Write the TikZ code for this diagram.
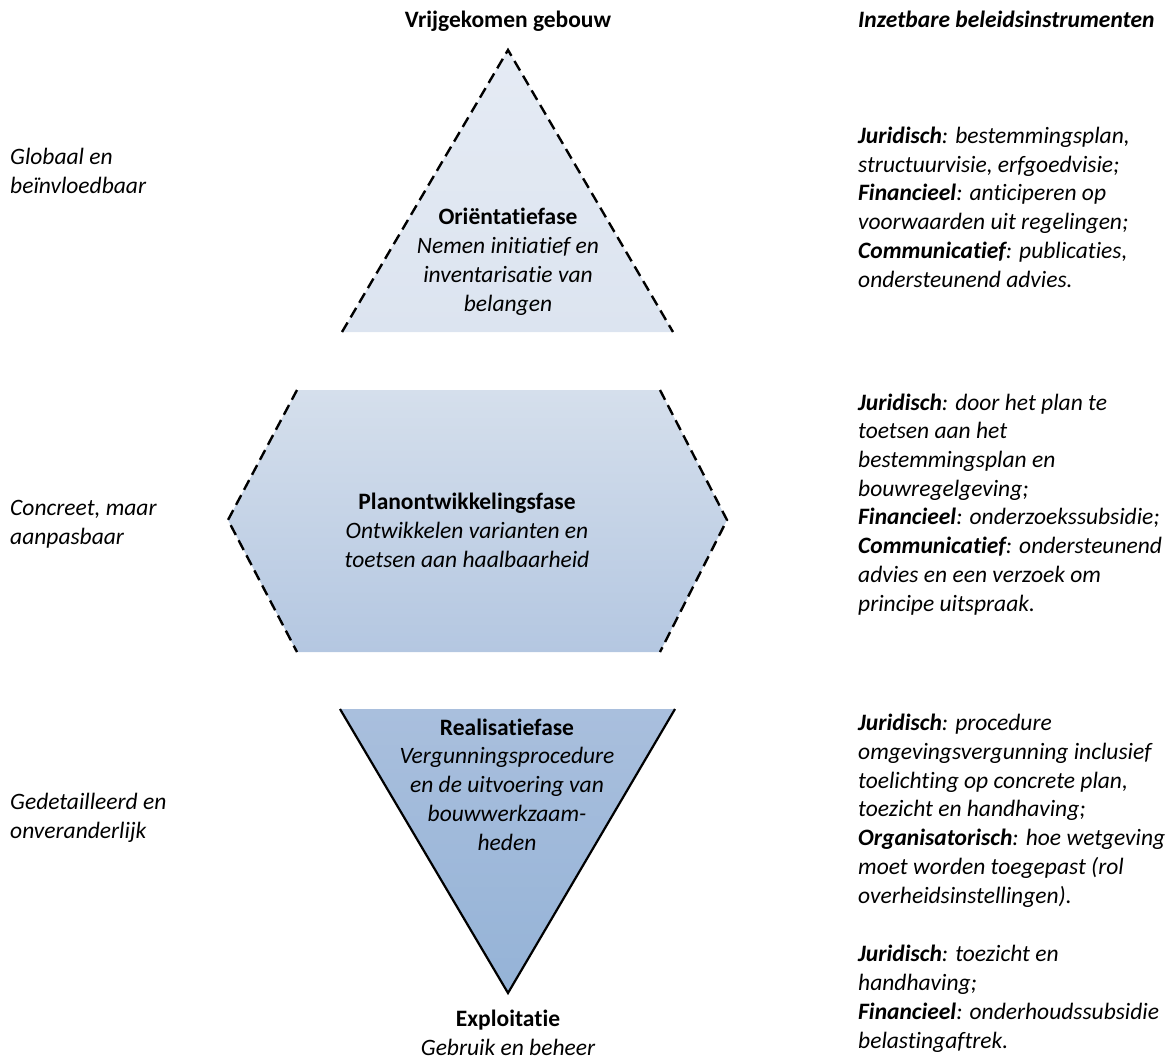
\documentclass[tikz,border=0pt]{standalone}
\usepackage{fontspec}
\setmainfont{Carlito}[Ligatures=NoCommon]
\begin{document}
\begin{tikzpicture}[x=1pt,y=-1pt,
  txt/.style={inner sep=0pt,font=\fontsize{23.5}{28.7}\selectfont},
  lefttxt/.style={txt,anchor=base west,align=left},
  midtxt/.style={txt,anchor=base,align=center},
  sidetxt/.style={lefttxt,font=\fontsize{23.5}{28.7}\selectfont\itshape},
  edgedash/.style={line width=2.4pt,dash pattern=on 11pt off 6pt},
  edgesolid/.style={line width=2.2pt,line join=miter}]
\useasboundingbox (0,0) rectangle (1176,1061);

% Orientation phase: dashed upward triangle
\shade[top color={rgb,255:red,229;green,235;blue,244},bottom color={rgb,255:red,220;green,228;blue,240}]
  (508,50) -- (673,332) -- (342,332) -- cycle;
\draw[edgedash] (342,332) -- (508,50) -- (673,332);

% Plan development phase: dashed hexagon
\shade[top color={rgb,255:red,213;green,223;blue,236},bottom color={rgb,255:red,180;green,199;blue,225}]
  (297,390) -- (660,390) -- (727,520) -- (660,652) -- (297,652) -- (228,520) -- cycle;
\draw[edgedash] (297,390) -- (228,520) -- (297,652);
\draw[edgedash] (660,390) -- (727,520) -- (660,652);

% Realisation phase: solid downward triangle
\shade[top color={rgb,255:red,169;green,191;blue,221},bottom color={rgb,255:red,149;green,179;blue,215}]
  (340,709) -- (675,709) -- (508,993) -- cycle;
\draw[edgesolid] (340,709) -- (508,993) -- (675,709);

% Column headings (base anchor = baseline of the last line)
\node[midtxt] (top) at (508,27) {\bfseries Vrijgekomen gebouw};
\node[lefttxt] (head) at (858,27) {\bfseries\itshape Inzetbare beleidsinstrumenten};

% Phase labels
\node[midtxt] (orient) at (508,311) {\textbf{Oriëntatiefase}\\\itshape Nemen initiatief en\\\itshape inventarisatie van\\\itshape belangen};
\node[midtxt] (plan) at (467,567) {\textbf{Planontwikkelingsfase}\\\itshape Ontwikkelen varianten en\\\itshape toetsen aan haalbaarheid};
\node[midtxt] (real) at (507,850) {\textbf{Realisatiefase}\\\itshape Vergunningsprocedure\\\itshape en de uitvoering van\\\itshape bouwwerkzaam-\\\itshape heden};
\node[midtxt] (expl) at (508,1055) {\textbf{Exploitatie}\\\itshape Gebruik en beheer};

% Left column: character of each phase
\node[sidetxt] (l1) at (10,193) {Globaal en\\beïnvloedbaar};
\node[sidetxt] (l2) at (10,544) {Concreet, maar\\aanpasbaar};
\node[sidetxt] (l3) at (10,838) {Gedetailleerd en\\onveranderlijk};

% Right column: policy instruments
\node[sidetxt] (r1) at (858,287)
  {\textbf{Juridisch}: bestemmingsplan,\\structuurvisie, erfgoedvisie;\\\textbf{Financieel}: anticiperen op\\voorwaarden uit regelingen;\\\textbf{Communicatief}: publicaties,\\ondersteunend advies.};
\node[sidetxt] (r2) at (858,611)
  {\textbf{Juridisch}: door het plan te\\toetsen aan het\\bestemmingsplan en\\bouwregelgeving;\\\textbf{Financieel}: onderzoekssubsidie;\\\textbf{Communicatief}: ondersteunend\\advies en een verzoek om\\principe uitspraak.};
\node[sidetxt] (r3) at (858,903)
  {\textbf{Juridisch}: procedure\\omgevingsvergunning inclusief\\toelichting op concrete plan,\\toezicht en handhaving;\\\textbf{Organisatorisch}: hoe wetgeving\\moet worden toegepast (rol\\overheidsinstellingen).};
\node[sidetxt] (r4) at (858,1048)
  {\textbf{Juridisch}: toezicht en\\handhaving;\\\textbf{Financieel}: onderhoudssubsidie\\belastingaftrek.};
\end{tikzpicture}
\end{document}
